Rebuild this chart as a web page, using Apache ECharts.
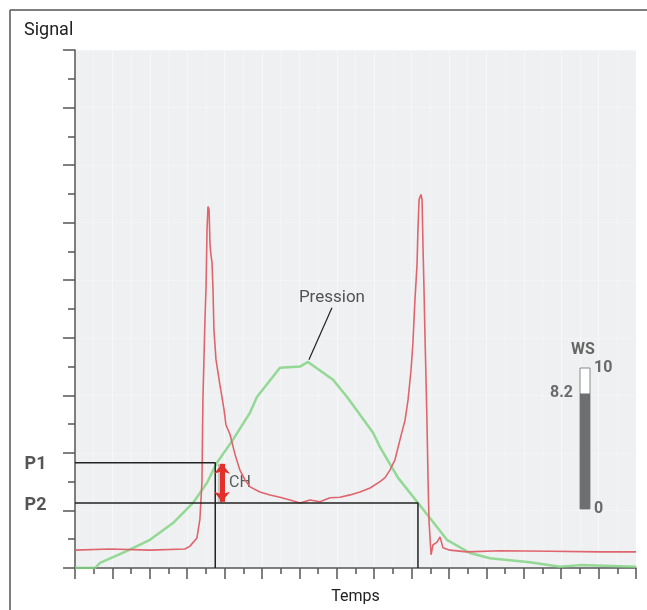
<!DOCTYPE html>
<html>
<head>
<meta charset="utf-8">
<script src="https://cdn.jsdelivr.net/npm/echarts@6/dist/echarts.min.js"></script>
<style>
  html, body { margin: 0; padding: 0; background: #fff; }
  #chart { width: 647px; height: 610px; }
</style>
</head>
<body>
<div id="chart"></div>
<script>
// signal (rouge) : [temps, signal]
var signalPts = [
  [0, 0.31], [1.87, 0.33], [4.01, 0.31], [5.88, 0.33], [6.15, 0.38], [6.52, 0.52],
  [6.68, 0.85], [6.79, 1.5], [6.84, 2.92], [6.95, 4.31], [7.01, 4.89], [7.06, 5.88],
  [7.11, 6.28], [7.17, 6.23], [7.22, 5.62], [7.27, 5.44], [7.33, 5.3], [7.38, 4.83],
  [7.43, 4.14], [7.54, 3.62], [7.65, 3.39], [7.75, 3.18], [7.86, 2.97], [7.97, 2.75],
  [8.07, 2.49], [8.29, 2.32], [8.56, 1.97], [8.82, 1.7], [9.09, 1.53], [9.36, 1.41],
  [9.89, 1.32], [10.43, 1.27], [10.96, 1.23], [11.5, 1.18], [12.03, 1.13], [12.57, 1.18],
  [13.1, 1.15], [13.64, 1.22], [14.17, 1.23], [14.71, 1.27], [15.24, 1.32], [15.78, 1.39],
  [16.31, 1.5], [16.58, 1.57], [16.84, 1.7], [17.11, 1.88], [17.38, 2.23], [17.65, 2.57],
  [17.81, 2.92], [17.97, 3.44], [18.07, 3.91], [18.18, 4.66], [18.29, 5.27], [18.34, 5.88],
  [18.4, 6.4], [18.5, 6.49], [18.56, 6.4], [18.61, 5.58], [18.66, 4.9], [18.72, 3.97],
  [18.77, 3.3], [18.82, 2.57], [18.88, 1.53], [18.93, 0.83], [19.04, 0.23], [19.14, 0.4],
  [19.36, 0.45], [19.52, 0.54], [19.68, 0.35], [20.05, 0.31], [20.96, 0.28], [22.73, 0.3],
  [25.4, 0.29], [28.07, 0.28], [30, 0.28]
];
// pression (vert)
var pressionPts = [
  [0, 0], [1.07, 0], [1.34, 0.09], [2.67, 0.28], [4.01, 0.49], [5.24, 0.78], [6.31, 1.13],
  [7.06, 1.48], [7.59, 1.83], [8.45, 2.23], [9.36, 2.7], [9.73, 2.97], [10.96, 3.48],
  [12.03, 3.5], [12.46, 3.58], [13.8, 3.27], [14.55, 2.97], [15.94, 2.35], [16.31, 2.1],
  [17.27, 1.57], [18.98, 0.87], [19.89, 0.49], [21.12, 0.26], [22.19, 0.17], [24.33, 0.1],
  [25.94, 0.02], [27, 0.05], [30, 0.02]
];
// P1 / P2 : [temps, niveau]
var p1 = [7.5, 1.83];
var p2 = [18.34, 1.13];
var chX = 7.86;
var pressionLeader = [[13.74, 4.52], [12.51, 3.62]];
var wsMax = 10;
var wsValue = 8.2;

var font = 'Roboto, "DejaVu Sans", sans-serif';
var axisCol = '#555';

// petit point invisible qui porte un texte
function textPoint(name, pt, text, pos, dist, size, weight) {
  return {
    name: name, type: 'scatter', symbolSize: 1, clip: false, silent: true,
    itemStyle: { color: 'rgba(0,0,0,0)' },
    data: [pt],
    label: { show: true, formatter: text, position: pos, distance: dist, fontSize: size, fontWeight: weight || 'normal', color: '#2a2a2a' },
    labelLayout: { hideOverlap: false }
  };
}

var myChart = echarts.init(document.getElementById('chart'));
var option = {
  animation: false,
  textStyle: { fontFamily: font },
  title: {
    text: 'Signal',
    left: 19, top: 16,
    textStyle: { fontSize: 18, fontWeight: 'normal', color: '#222', fontFamily: font }
  },
  graphic: [
    { type: 'line', shape: { x1: 10, y1: 10, x2: 647, y2: 10 }, style: { stroke: '#555', lineWidth: 1.5 } },
    { type: 'line', shape: { x1: 10, y1: 10, x2: 10, y2: 610 }, style: { stroke: '#555', lineWidth: 1.5 } }
  ],
  grid: [{
    left: 75, top: 50, right: 11, bottom: 42,
    show: true, backgroundColor: '#eef0f2', borderWidth: 0,
    outerBoundsMode: 'none'
  }, {
    left: 580, top: 368, width: 10, height: 141,
    outerBoundsMode: 'none'
  }],
  xAxis: [{
    type: 'value', min: 0, max: 30, interval: 2,
    name: 'Temps', nameLocation: 'middle', nameGap: 21,
    nameTextStyle: { fontSize: 16, color: '#222' },
    axisLine: { lineStyle: { color: axisCol, width: 1.5 } },
    axisTick: { show: true, length: 11, lineStyle: { color: axisCol, width: 1.5 } },
    minorTick: { show: true, splitNumber: 2, length: 6, lineStyle: { color: axisCol, width: 1.5 } },
    axisLabel: { show: false },
    splitLine: { show: true, lineStyle: { color: 'rgba(255,255,255,0.45)', width: 1 } },
    minorSplitLine: { show: true, lineStyle: { color: 'rgba(255,255,255,0.35)', width: 1 } }
  }, {
    type: 'category', gridIndex: 1, data: ['WS'], show: false
  }],
  yAxis: [{
    type: 'value', min: 0, max: 9, interval: 1,
    axisLine: { show: true, lineStyle: { color: axisCol, width: 1.5 } },
    axisTick: { show: true, length: 12, lineStyle: { color: axisCol, width: 1.5 } },
    minorTick: { show: true, splitNumber: 2, length: 7, lineStyle: { color: axisCol, width: 1.5 } },
    axisLabel: { show: false },
    splitLine: { show: true, lineStyle: { color: 'rgba(255,255,255,0.3)', width: 1 } },
    minorSplitLine: { show: false }
  }, {
    type: 'value', gridIndex: 1, min: 0, max: wsMax, position: 'left',
    name: 'WS', nameLocation: 'end', nameGap: 10,
    nameTextStyle: { fontSize: 16, color: '#666', fontWeight: 'bold', padding: [0, 0, 0, 6] },
    axisLine: { show: false }, axisTick: { show: false }, axisLabel: { show: false },
    splitLine: { show: false }
  }, {
    type: 'value', gridIndex: 1, min: 0, max: wsMax, interval: wsMax, position: 'right',
    axisLine: { show: false }, axisTick: { show: false },
    axisLabel: { show: true, margin: 4, fontSize: 16, color: '#6a6a6a', fontWeight: 'bold' },
    splitLine: { show: false }
  }],
  series: [{
    name: 'Pression', type: 'line', data: pressionPts,
    showSymbol: false, symbol: 'none',
    lineStyle: { color: 'rgba(125,210,125,0.8)', width: 2.5 }
  }, {
    name: 'Signal', type: 'line', data: signalPts,
    showSymbol: false, symbol: 'none',
    lineStyle: { color: '#e0646d', width: 1.6 }
  }, {
    name: 'P1', type: 'line', symbol: 'none',
    data: [[0, p1[1]], [p1[0], p1[1]], [p1[0], 0]],
    lineStyle: { color: '#222', width: 1.5 }
  }, {
    name: 'P2', type: 'line', symbol: 'none',
    data: [[0, p2[1]], [p2[0], p2[1]], [p2[0], 0]],
    lineStyle: { color: '#222', width: 1.5 }
  }, {
    name: 'Leader', type: 'line', symbol: 'none',
    data: pressionLeader,
    lineStyle: { color: '#222', width: 1.2 }
  },
  textPoint('P1 label', [0, p1[1] - 0.04], 'P1', 'left', 28, 18, 'bold'),
  textPoint('P2 label', [0, p2[1] - 0.04], 'P2', 'left', 28, 18, 'bold'),
  textPoint('Pression label', pressionLeader[0], 'Pression', 'top', 1, 17),
  {
    name: 'CH', type: 'scatter', symbolSize: 1,
    itemStyle: { color: 'rgba(0,0,0,0)' },
    data: [[chX + 0.3, (p1[1] + p2[1]) / 2]],
    label: { show: true, formatter: 'CH', position: 'right', distance: 1, fontSize: 16, color: '#333' },
    markLine: {
      silent: true,
      symbol: ['arrow', 'arrow'], symbolSize: [12, 10],
      label: { show: false },
      lineStyle: { color: '#e3302a', width: 5, type: 'solid', shadowColor: 'rgba(0,0,0,0.35)', shadowOffsetX: -2, shadowBlur: 1 },
      itemStyle: { color: '#e3302a' },
      data: [[{ coord: [chX, p1[1] - 0.02] }, { coord: [chX, p2[1] + 0.02] }]]
    }
  }, {
    name: 'WS', type: 'bar', xAxisIndex: 1, yAxisIndex: 1,
    data: [wsValue], barWidth: '100%',
    itemStyle: { color: '#6f6f6f' },
    showBackground: true,
    backgroundStyle: { color: '#ffffff', borderColor: '#8a8a8a', borderWidth: 1 },
    label: {
      show: true, position: [-7, 0], align: 'right', verticalAlign: 'middle',
      formatter: '{c}', fontSize: 16, color: '#6a6a6a', fontWeight: 'bold'
    }
  }]
};
myChart.setOption(option);
</script>
</body>
</html>
